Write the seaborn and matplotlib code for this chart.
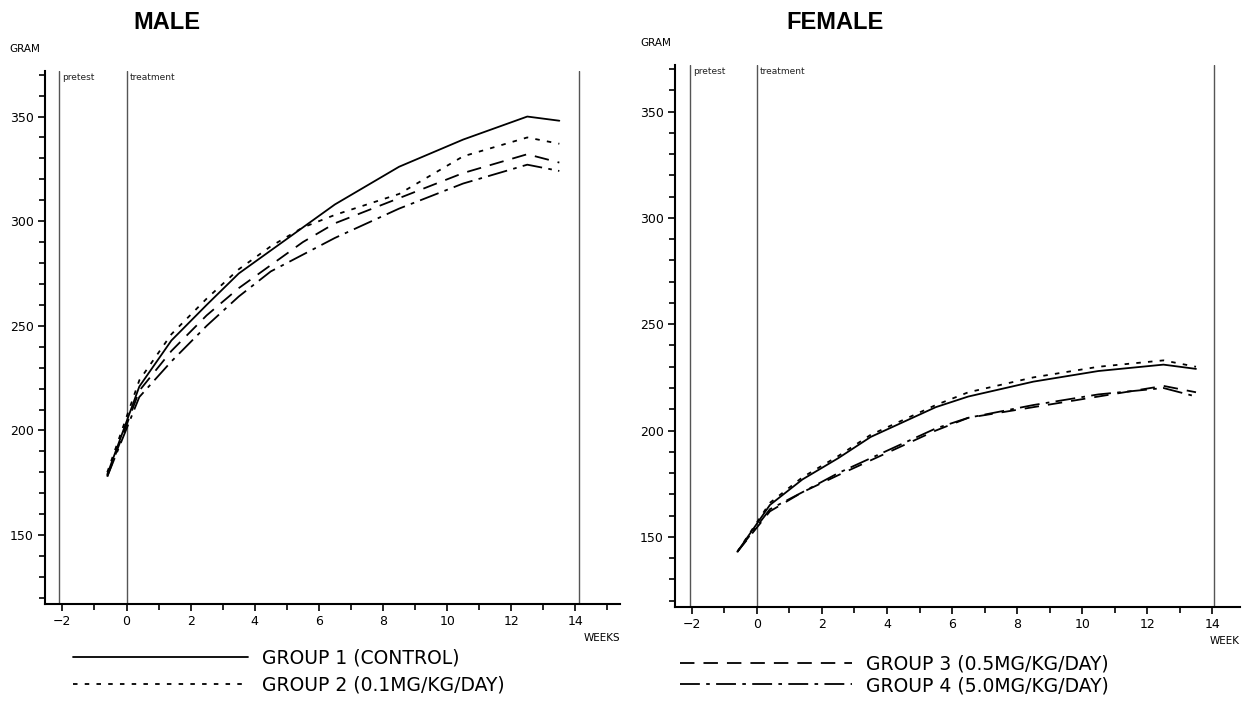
import matplotlib
matplotlib.use("Agg")
import matplotlib.pyplot as plt
from matplotlib.ticker import MultipleLocator
import numpy as np
import pandas as pd
import seaborn as sns

# weighing weeks (same schedule for both sexes)
weeks = [-0.6, 0.4, 1.4, 2.5, 3.5, 4.5, 5.5, 6.5, 8.5, 10.5, 12.5, 13.5]

groups = ["GROUP 1 (CONTROL)", "GROUP 2 (0.1MG/KG/DAY)",
          "GROUP 3 (0.5MG/KG/DAY)", "GROUP 4 (5.0MG/KG/DAY)"]

# mean body weight, gram
male_g1 = [179, 221, 243, 260, 275, 286, 297, 308, 326, 339, 350, 348]
male_g2 = [180, 224, 246, 263, 277, 288, 297, 303, 313, 331, 340, 337]
male_g3 = [178, 219, 238, 255, 268, 279, 290, 299, 311, 323, 332, 328]
male_g4 = [178, 216, 233, 250, 264, 276, 284, 292, 306, 318, 327, 324]

female_g1 = [143, 165, 177, 187, 197, 204, 211, 216, 223, 228, 231, 229]
female_g2 = [143, 166, 178, 188, 198, 205, 212, 218, 225, 230, 233, 230]
female_g3 = [143, 162, 171, 179, 186, 193, 200, 206, 211, 216, 221, 218]
female_g4 = [143, 163, 171, 180, 187, 194, 201, 206, 212, 217, 220, 216]

dash_map = {
    groups[0]: "",
    groups[1]: (2.5, 4),
    groups[2]: (8, 5),
    groups[3]: (11, 3.5, 2, 3.5),
}


def long_frame(series):
    rows = []
    for name, vals in zip(groups, series):
        for w, v in zip(weeks, vals):
            rows.append({"week": w, "gram": v, "group": name})
    return pd.DataFrame(rows)


male = long_frame([male_g1, male_g2, male_g3, male_g4])
female = long_frame([female_g1, female_g2, female_g3, female_g4])

sns.set_style("ticks")
plt.rcParams["font.family"] = ["DejaVu Sans"]
plt.rcParams["text.color"] = "black"
plt.rcParams["xtick.color"] = "black"
plt.rcParams["ytick.color"] = "black"
plt.rcParams["axes.edgecolor"] = "black"

fig = plt.figure(figsize=(12.43, 7.05), dpi=100)
ax_m = fig.add_axes([0.036, 0.143, 0.463, 0.757])
ax_f = fig.add_axes([0.543, 0.139, 0.4545, 0.769])


def style_axis(ax, df, xlim, vlines, unit):
    sns.lineplot(data=df, x="week", y="gram", style="group", dashes=dash_map,
                 color="black", linewidth=1.3, estimator=None, sort=False,
                 legend=False, ax=ax)
    for v in vlines:
        ax.axvline(v, color="#555555", linewidth=1.0, zorder=1)
    ax.text(vlines[0] + 0.1, 371, "pretest", fontsize=6.5, va="top", color="#222222")
    ax.text(vlines[1] + 0.1, 371, "treatment", fontsize=6.5, va="top", color="#222222")
    ax.set_xlim(*xlim)
    ax.set_ylim(117, 372)
    ax.xaxis.set_major_locator(MultipleLocator(2))
    ax.xaxis.set_minor_locator(MultipleLocator(1))
    ax.yaxis.set_minor_locator(MultipleLocator(10))
    ax.set_yticks([150, 200, 250, 300, 350])
    ax.tick_params(which="major", direction="out", length=5, width=1.2, labelsize=9, pad=3)
    ax.tick_params(which="minor", direction="out", length=4, width=1.2)
    for s in ["top", "right"]:
        ax.spines[s].set_visible(False)
    for s in ["left", "bottom"]:
        ax.spines[s].set_linewidth(1.5)
    ax.set_xlabel("")
    ax.set_ylabel("")
    ax.text(-0.062, 1.04, "GRAM", transform=ax.transAxes, fontsize=7.5,
            ha="left", va="center")
    ax.text(1.0, -0.063, unit, transform=ax.transAxes, fontsize=7.5,
            ha="right", va="center")


style_axis(ax_m, male, (-2.55, 15.4), [-2.1, 0, 14.1], "WEEKS")
style_axis(ax_f, female, (-2.52, 14.85), [-2.05, 0, 14.05], "WEEK")

fig.text(0.134, 0.968, "MALE", fontsize=17, fontweight="bold",
         family="Liberation Sans", ha="center", va="center")
fig.text(0.672, 0.968, "FEMALE", fontsize=17, fontweight="bold",
         family="Liberation Sans", ha="center", va="center")

lines_m = ax_m.get_lines()
lines_f = ax_f.get_lines()

fig.legend(handles=lines_m[:2], labels=groups[:2], loc="upper left",
           bbox_to_anchor=(0.059, 0.08), frameon=False, fontsize=13.5,
           handlelength=9.3, handletextpad=0.75, labelspacing=0.42,
           borderpad=0, borderaxespad=0)
fig.legend(handles=lines_f[2:4], labels=groups[2:], loc="upper left",
           bbox_to_anchor=(0.547, 0.072), frameon=False, fontsize=13.5,
           handlelength=9.2, handletextpad=0.75, labelspacing=0.15,
           borderpad=0, borderaxespad=0)

fig.savefig("out.png", dpi=100)
